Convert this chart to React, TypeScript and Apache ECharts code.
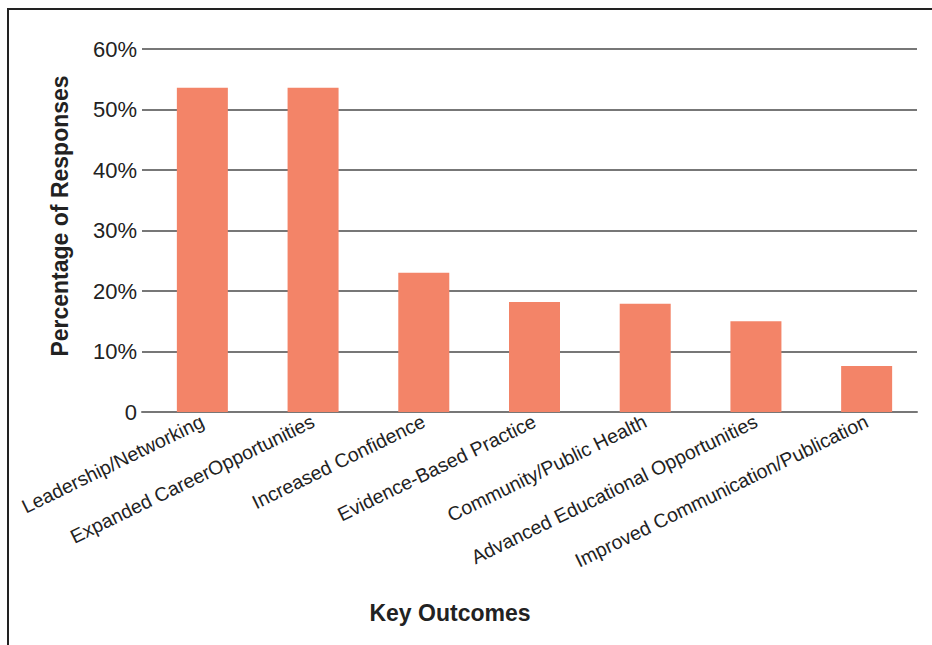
import React, { useEffect, useRef } from "react";
import * as echarts from "echarts";

const categories = [
  "Leadership/Networking",
  "Expanded CareerOpportunities",
  "Increased Confidence",
  "Evidence-Based Practice",
  "Community/Public Health",
  "Advanced Educational Opportunities",
  "Improved Communication/Publication",
];
const values = [53.6, 53.6, 23.0, 18.2, 17.9, 15.0, 7.6];
const yTicks = { min: 0, max: 60, interval: 10 };
const yTitle = "Percentage of Responses";
const xTitle = "Key Outcomes";

export default function App() {
  const ref = useRef<HTMLDivElement>(null);
  useEffect(() => {
    document.body.style.margin = "0";
    const chart = echarts.init(ref.current!, null, { renderer: "svg" });
    const font = "Arial, 'Liberation Sans', Helvetica, sans-serif";
    chart.setOption({
      animation: false,
      backgroundColor: "#fff",
      textStyle: { fontFamily: font },
      grid: [
        { left: 142, right: 15, top: 49, bottom: 233 },
        { left: 147, right: 10, top: 49, bottom: 233 },
      ],
      xAxis: [
        {
          type: "category",
          gridIndex: 0,
          data: categories,
          axisLine: { show: true, lineStyle: { color: "#777", width: 2 } },
          axisTick: { show: false },
          axisLabel: { show: false },
        },
        {
          type: "category",
          gridIndex: 1,
          data: categories,
          axisLine: { show: false },
          axisTick: { show: false },
          axisLabel: {
            interval: 0,
            rotate: 26,
            margin: 8,
            fontSize: 19.5,
            color: "#222",
            fontFamily: font,
          },
        },
      ],
      yAxis: [
        {
          type: "value",
          gridIndex: 0,
          min: yTicks.min,
          max: yTicks.max,
          interval: yTicks.interval,
          axisLine: { show: false },
          axisTick: { show: false },
          axisLabel: {
            fontSize: 22,
            color: "#222",
            margin: 5,
            fontFamily: font,
            formatter: (v: number) => (v === 0 ? "0" : v + "%"),
          },
          splitLine: { lineStyle: { color: "#777", width: 2 } },
        },
        {
          type: "value",
          gridIndex: 1,
          min: yTicks.min,
          max: yTicks.max,
          interval: yTicks.interval,
          show: false,
          splitLine: { show: false },
        },
      ],
      series: [
        {
          type: "bar",
          xAxisIndex: 1,
          yAxisIndex: 1,
          data: values,
          barWidth: 51,
          itemStyle: { color: "#F38468" },
          z: 3,
        },
      ],
      graphic: [
        { type: "line", shape: { x1: 7, y1: 9, x2: 932, y2: 9 }, style: { stroke: "#222", lineWidth: 2 } },
        { type: "line", shape: { x1: 8, y1: 8, x2: 8, y2: 645 }, style: { stroke: "#222", lineWidth: 2 } },
        {
          type: "text",
          x: 60,
          y: 216,
          rotation: Math.PI / 2,
          style: {
            text: yTitle,
            fontSize: 23,
            fontWeight: "bold",
            fill: "#222",
            fontFamily: font,
            align: "center",
            verticalAlign: "middle",
          },
        },
        {
          type: "text",
          x: 450,
          y: 613,
          style: {
            text: xTitle,
            fontSize: 23,
            fontWeight: "bold",
            fill: "#222",
            fontFamily: font,
            align: "center",
            verticalAlign: "middle",
          },
        },
      ],
    });
    return () => chart.dispose();
  }, []);
  return <div ref={ref} style={{ width: 932, height: 645, position: "absolute", left: 0, top: 0 }} />;
}
